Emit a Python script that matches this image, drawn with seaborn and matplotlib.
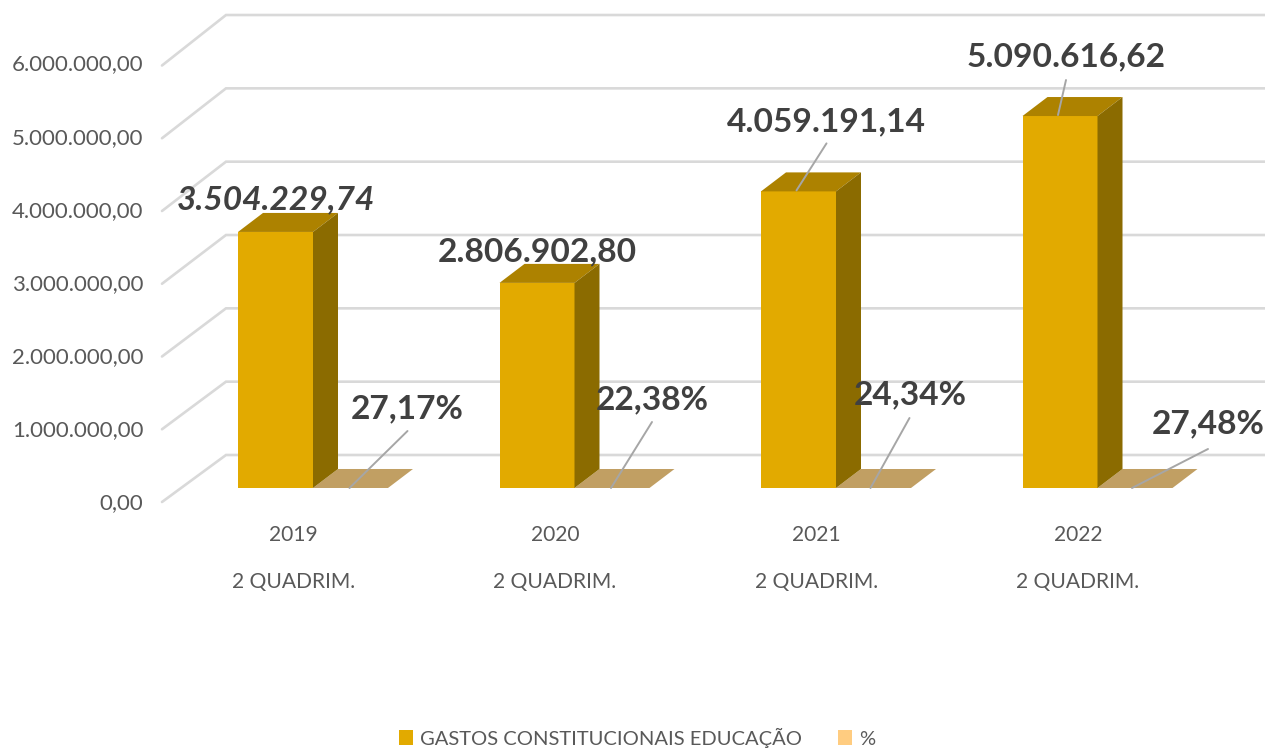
import matplotlib
matplotlib.use("Agg")
import matplotlib.pyplot as plt
import seaborn as sns
import pandas as pd
import numpy as np
from matplotlib.patches import Polygon, Patch
from matplotlib.lines import Line2D
from matplotlib.transforms import ScaledTranslation

years = ["2019", "2020", "2021", "2022"]
period = "2 QUADRIM."
gastos = [3504229.74, 2806902.80, 4059191.14, 5090616.62]
percent = [27.17, 22.38, 24.34, 27.48]
gastos_labels = ["3.504.229,74", "2.806.902,80", "4.059.191,14", "5.090.616,62"]
percent_labels = ["27,17%", "22,38%", "24,34%", "27,48%"]
ytick_values = [0, 1000000, 2000000, 3000000, 4000000, 5000000, 6000000]
ytick_labels = ["0,00", "1.000.000,00", "2.000.000,00", "3.000.000,00",
                "4.000.000,00", "5.000.000,00", "6.000.000,00"]
series_names = ["GASTOS CONSTITUCIONAIS EDUCAÇÃO", "%"]

FRONT, TOP, SIDE, FLOOR, SWATCH2 = "#E2AA00", "#AD8200", "#8B6B00", "#C19F63", "#FFCC80"
GRID, TICK, LABEL, LEADER = "#D9D9D9", "#595959", "#404040", "#A6A6A6"

W, H = 1265, 748
PX_CAT = 261.5          # pixels between categories
PX_VAL = 73.07e-6       # pixels per unit of value

sns.set_theme(style="white")
plt.rcParams["font.family"] = ["Lato", "DejaVu Sans"]

fig = plt.figure(figsize=(W / 100, H / 100), dpi=100)
left, base, floor_px = 160, 488, 11
ax = fig.add_axes([left / W, (H - base - floor_px) / H, (W - left) / W, (base + floor_px) / H])
ax.patch.set_alpha(0)

df = pd.DataFrame({
    "ano": years * 2,
    "serie": [series_names[0]] * 4 + [series_names[1]] * 4,
    "valor": gastos + percent,
})
sns.barplot(data=df, x="ano", y="valor", hue="serie", hue_order=series_names,
            palette=[FRONT, SWATCH2], saturation=1, width=150 / PX_CAT, gap=0, dodge=True,
            legend=False, ax=ax, linewidth=0, zorder=3)

ax.set_xlim((left - 313) / PX_CAT, (W - 313) / PX_CAT)
ax.set_ylim(-floor_px / PX_VAL, base / PX_VAL)
sns.despine(ax=ax, left=True, bottom=True, top=True, right=True)
ax.set_xlabel("")
ax.set_ylabel("")

# ticks: the floor of the 3D box sits slightly below the bars' base
shift = floor_px / PX_VAL
ax.set_yticks(np.array(ytick_values) - shift, ytick_labels)
ax.tick_params(axis="y", length=0, pad=12, labelsize=16, labelcolor=TICK)
ax.set_xticks(np.arange(4) - 19.5 / PX_CAT, [f"{y}\n{period}" for y in years])
ax.tick_params(axis="x", length=0, pad=18.5, labelsize=15.1, labelcolor=TICK)
for t in ax.get_xticklabels():
    t.set_linespacing(2.72)
nudge = ScaledTranslation(0, -2 / 100, fig.dpi_scale_trans)
for t in ax.get_yticklabels():
    t.set_transform(t.get_transform() + nudge)

# walls
xl, xr = ax.get_xlim()
for v in ytick_values:
    y_front = v * (72.75 / 73.07) - 14 / PX_VAL
    y_back = v * (73.33 / 73.07) + 33 / PX_VAL
    ax.add_line(Line2D([xl + 2 / PX_CAT, xl + 66 / PX_CAT, xr], [y_front, y_back, y_back],
                       color=GRID, lw=1.9, zorder=1, solid_joinstyle="miter", clip_on=False))

# 3D faces of the bars
dx, dy = 25 / PX_CAT, 19 / PX_VAL
for bar in ax.containers[0]:
    x0, x1, h = bar.get_x(), bar.get_x() + bar.get_width(), bar.get_height()
    ax.add_patch(Polygon([(x0, h), (x1, h), (x1 + dx, h + dy), (x0 + dx, h + dy)],
                         fc=TOP, lw=0, zorder=4))
    ax.add_patch(Polygon([(x1, 0), (x1 + dx, dy), (x1 + dx, h + dy), (x1, h)],
                         fc=SIDE, lw=0, zorder=4))
for bar in ax.containers[1]:
    x0, x1, h = bar.get_x(), bar.get_x() + bar.get_width(), bar.get_height()
    ax.add_patch(Polygon([(x0, h), (x1, h), (x1 + dx, h + dy), (x0 + dx, h + dy)],
                         fc=FLOOR, lw=0, zorder=2.5))

# data labels and leader lines (offsets in pixels from the bar's front-top centre)
label_off = [(0, 32), (0, 31), (28, 70), (6, 59)]
leader_off = [None, None, ((-2, 1), (28, 48)), ((-2, 1), (6, 36))]
pct_off = [(57, 79), (40, 88), (37, 93), (73, 64)]
pct_leader = [((-1, 0), (57, 57)), ((-1, 0), (40, 66)), ((-3, 0), (36, 70)), ((-3, 0), (73, 39))]

def leader(xy, seg):
    (a, b), (c, d) = seg
    p0 = (xy[0] + a / PX_CAT, xy[1] + b / PX_VAL)
    p1 = (xy[0] + c / PX_CAT, xy[1] + d / PX_VAL)
    ax.add_line(Line2D([p0[0], p1[0]], [p0[1], p1[1]], color=LEADER, lw=1.4, zorder=5))

for i, bar in enumerate(ax.containers[0]):
    xy = (bar.get_x() + bar.get_width() / 2, bar.get_height())
    ax.annotate(gastos_labels[i], xy=xy, xytext=label_off[i], textcoords="offset pixels",
                ha="center", va="center", fontsize=24.1, fontweight="bold", color=LABEL,
                fontstyle="italic" if i == 0 else "normal", zorder=6)
    if leader_off[i]:
        leader(xy, leader_off[i])
for i, bar in enumerate(ax.containers[1]):
    xy = (bar.get_x() + bar.get_width() / 2, bar.get_height())
    ax.annotate(percent_labels[i], xy=xy, xytext=pct_off[i], textcoords="offset pixels",
                ha="center", va="center", fontsize=24.1, fontweight="bold", color=LABEL, zorder=6)
    leader(xy, pct_leader[i])

handles = [Patch(fc=FRONT, lw=0, label=series_names[0]), Patch(fc=SWATCH2, lw=0, label=series_names[1])]
fig.legend(handles=handles, loc="center", bbox_to_anchor=(637 / W, 1 - 737.5 / H), ncol=2, frameon=False,
           fontsize=14.5, labelcolor=TICK, handlelength=0.7, handleheight=0.7,
           handletextpad=0.35, columnspacing=1.75, borderpad=0)

fig.savefig("out.png", dpi=100)
